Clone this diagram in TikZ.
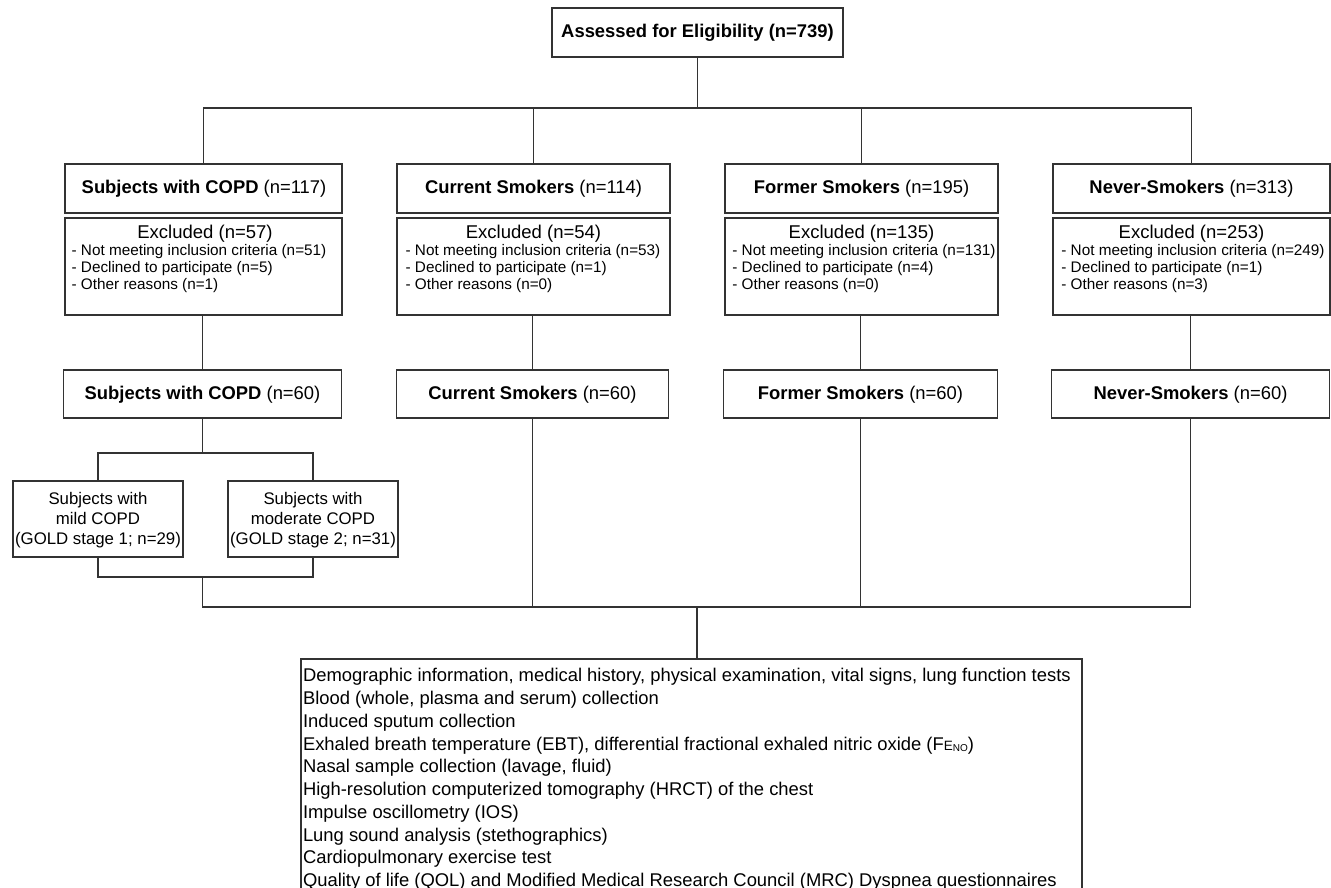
\documentclass[tikz,border=0pt]{standalone}
\usepackage{fontspec}
\setmainfont{Liberation Sans}
\begin{document}
\begin{tikzpicture}[x=1pt,y=-1pt,
  every node/.style={inner sep=0pt,outer sep=0pt},
  box/.style={draw=black!80,line width=1.2pt,fill=white,anchor=center},
  hdr/.style={font=\fontsize{18.4}{21}\selectfont},
  exttl/.style={font=\fontsize{18.5}{21}\selectfont},
  exitems/.style={font=\fontsize{15.3}{16.6}\selectfont,align=left,anchor=center},
  subtxt/.style={font=\fontsize{16.8}{20}\selectfont,align=center},
  ln/.style={draw=black!80,line width=1.2pt}]
\useasboundingbox (0,0) rectangle (1331,888);
\fill[white] (0,0) rectangle (1331,888);

% top
\node[box,minimum width=291pt,minimum height=49pt] (top) at (697.5,32.5) {};
\node[hdr] (toptxt) at (697.5,32.5) {\textbf{Assessed for Eligibility (n=739)}};

% header boxes
\node[box,minimum width=277pt,minimum height=49pt] (h1) at (203.5,188.5) {};
\node[hdr] (h1t) at (204,189) {\textbf{Subjects with COPD} (n=117)};
\node[box,minimum width=273pt,minimum height=49pt] (h2) at (533.5,188.5) {};
\node[hdr] (h2t) at (533.5,189) {\textbf{Current Smokers} (n=114)};
\node[box,minimum width=273pt,minimum height=49pt] (h3) at (861.5,188.5) {};
\node[hdr] (h3t) at (861.5,189) {\textbf{Former Smokers} (n=195)};
\node[box,minimum width=277pt,minimum height=49pt] (h4) at (1191.5,188.5) {};
\node[hdr] (h4t) at (1191.5,189) {\textbf{Never-Smokers} (n=313)};

% excluded boxes
\node[box,minimum width=277pt,minimum height=97pt] (e1) at (203.5,266.5) {};
\node[exttl] (e1t) at (205,234) {Excluded (n=57)};
\node[exitems] (e1i) at (199,268.5) {- Not meeting inclusion criteria (n=51)\\- Declined to participate (n=5)\\- Other reasons (n=1)};
\node[box,minimum width=273pt,minimum height=97pt] (e2) at (533.5,266.5) {};
\node[exttl] (e2t) at (533.5,234) {Excluded (n=54)};
\node[exitems] (e2i) at (533,268.5) {- Not meeting inclusion criteria (n=53)\\- Declined to participate (n=1)\\- Other reasons (n=0)};
\node[box,minimum width=273pt,minimum height=97pt] (e3) at (861.5,266.5) {};
\node[exttl] (e3t) at (861.5,234) {Excluded (n=135)};
\node[exitems] (e3i) at (864,268.5) {- Not meeting inclusion criteria (n=131)\\- Declined to participate (n=4)\\- Other reasons (n=0)};
\node[box,minimum width=277pt,minimum height=97pt] (e4) at (1191.5,266.5) {};
\node[exttl] (e4t) at (1191.5,234) {Excluded (n=253)};
\node[exitems] (e4i) at (1193,268.5) {- Not meeting inclusion criteria (n=249)\\- Declined to participate (n=1)\\- Other reasons (n=3)};

% second row
\node[box,minimum width=278pt,minimum height=48pt] (s1) at (202.5,394) {};
\node[hdr] (s1t) at (202.5,395) {\textbf{Subjects with COPD} (n=60)};
\node[box,minimum width=272pt,minimum height=48pt] (s2) at (532.5,394) {};
\node[hdr] (s2t) at (532.5,395) {\textbf{Current Smokers} (n=60)};
\node[box,minimum width=274pt,minimum height=48pt] (s3) at (860.5,394) {};
\node[hdr] (s3t) at (860.5,395) {\textbf{Former Smokers} (n=60)};
\node[box,minimum width=278pt,minimum height=48pt] (s4) at (1190.5,394) {};
\node[hdr] (s4t) at (1190.5,395) {\textbf{Never-Smokers} (n=60)};

% COPD sub boxes
\node[box,minimum width=170pt,minimum height=76pt] (m1) at (98,519) {};
\node[subtxt] (m1t) at (98,520) {Subjects with\\mild COPD\\(GOLD stage 1; n=29)};
\node[box,minimum width=170pt,minimum height=76pt] (m2) at (313,519) {};
\node[subtxt] (m2t) at (313,520) {Subjects with\\moderate COPD\\(GOLD stage 2; n=31)};

% bottom box
\draw[ln,fill=white] (301,895) |- (1082,659) -- (1082,895);
\coordinate (bt) at (697,659);
\node[font=\fontsize{18.4}{22.75}\selectfont,align=left,anchor=north west] (btxt) at (303,668.5) {%
Demographic information, medical history, physical examination, vital signs, lung function tests\\
Blood (whole, plasma and serum) collection\\
Induced sputum collection\\
Exhaled breath temperature (EBT), differential fractional exhaled nitric oxide (F{\fontsize{13.5}{13.5}\selectfont E}\raisebox{-0.15ex}{\fontsize{10}{10}\selectfont NO})\\
Nasal sample collection (lavage, fluid)\\
High-resolution computerized tomography (HRCT) of the chest\\
Impulse oscillometry (IOS)\\
Lung sound analysis (stethographics)\\
Cardiopulmonary exercise test\\
Quality of life (QOL) and Modified Medical Research Council (MRC) Dyspnea questionnaires};

% connectors top
\coordinate (j1) at (697.5,108);
\draw[ln] (top.south) -- (j1);
\draw[ln] (h1.north) |- (j1);
\draw[ln] (h2.north) |- (j1);
\draw[ln] (h3.north) |- (j1);
\draw[ln] (h4.north) |- (j1);

% excluded to second row
\draw[ln] (e1.south -| s1.north) -- (s1.north);
\draw[ln] (e2.south -| s2.north) -- (s2.north);
\draw[ln] (e3.south -| s3.north) -- (s3.north);
\draw[ln] (e4.south -| s4.north) -- (s4.north);

% COPD split
\coordinate (j2) at (202.5,453);
\draw[ln] (s1.south) -- (j2);
\draw[ln] (m1.north) |- (j2);
\draw[ln] (m2.north) |- (j2);
\coordinate (j3) at (202.5,577);
\draw[ln] (m1.south) |- (j3);
\draw[ln] (m2.south) |- (j3);

% bottom merge
\coordinate (j4) at (697,607);
\draw[ln] (j3) |- (j4);
\draw[ln] (s2.south) |- (j4);
\draw[ln] (s3.south) |- (j4);
\draw[ln] (s4.south) |- (j4);
\draw[ln] (j4) -- (bt);
\end{tikzpicture}
\end{document}
